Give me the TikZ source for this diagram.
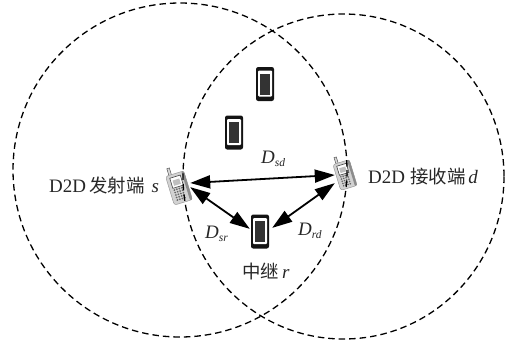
\documentclass[tikz,border=0pt]{standalone}
\usepackage{fontspec}
\usetikzlibrary{arrows.meta}
\setmainfont{Liberation Serif}
\newfontfamily\cjk{Noto Sans CJK SC}[Scale=0.97]
\newcommand{\SubD}[1]{\textit{D}\raisebox{-3pt}{\fontsize{11.5pt}{12pt}\selectfont\textit{#1}}}
\tikzset{
 ring/.style={draw=black,line width=1.3pt,dash pattern=on 6.5pt off 4pt},
 lbl/.style={inner sep=0pt,text=black!85,font=\fontsize{19pt}{21pt}\selectfont},
 link/.style={line width=1.8pt,{Triangle[length=20pt,width=13pt]}-{Triangle[length=20pt,width=13pt]}},
 anchorpt/.style={inner sep=0pt,minimum size=0pt},
 pics/smart/.style={code={
  \fill[black!92,rounded corners=2.2pt] (-9pt,-17pt) rectangle (9pt,17pt);
  \fill[white,rounded corners=1pt] (-7pt,-12.5pt) rectangle (7pt,13.5pt);
  \fill[black!80] (-5.2pt,-10.5pt) rectangle (5.2pt,10.5pt);
 }},
 pics/handset/.style={code={
  \begin{scope}[rotate=17]
  \fill[gray!30,draw=black!70,line width=.5pt] (-6pt,14pt) rectangle (-3.4pt,22pt);
  \fill[gray!35,draw=black!40,line width=.5pt,rounded corners=2.5pt] (-9.5pt,-15pt) rectangle (9.5pt,15pt);
  \fill[black!45,rounded corners=1pt] (7pt,-15pt) rectangle (9.5pt,15pt);
  \fill[white,draw=black!75,line width=.6pt] (-6pt,1.5pt) rectangle (5pt,12pt);
  \fill[gray!50] (-4pt,3.5pt) rectangle (3pt,9pt);
  \foreach \i in {-5,-2.4,.2,2.8}\foreach \j in {-11,-8.4,-5.8,-3.2,-.6}
    \fill[black!60] (\i pt,\j pt) circle (1pt);
  \end{scope}
 }},
}
\begin{document}
\begin{tikzpicture}[x=1pt,y=-1pt]
\useasboundingbox (0,0) rectangle (505,346);
\pic at (265,84) {smart};
\pic at (234,132.5) {smart};
\pic at (260,231.5) {smart};
\pic at (179,188) {handset};
\pic[scale=.9] at (345,175) {handset};
\draw[ring] (180,170) ellipse [x radius=167,y radius=167];
\draw[ring] (343.5,176.5) ellipse [x radius=160.5,y radius=162.5];
\node[anchorpt] (s1) at (190,183) {};
\node[anchorpt] (d1) at (335,175) {};
\node[anchorpt] (s2) at (190,187) {};
\node[anchorpt] (r1) at (250,229) {};
\node[anchorpt] (d2) at (335,183) {};
\node[anchorpt] (r2) at (272,228) {};
\draw[link] (s1) -- (d1);
\draw[link] (s2) -- (r1);
\draw[link] (d2) -- (r2);
\node[lbl,anchor=base west] (ls) at (49,192) {D2D\,{\cjk 发射端}\hspace{7pt}\textit{s}};
\node[lbl,anchor=base west] (ld) at (368,183) {D2D\hspace{5pt}{\cjk 接收端}\hspace{3pt}\textit{d}};
\node[lbl,anchor=base west] (lr) at (242,278) {{\cjk 中继}\,\textit{r}};
\node[lbl,anchor=base west] (dsd) at (261,163) {\SubD{sd}};
\node[lbl,anchor=base west] (dsr) at (205,238) {\SubD{sr}};
\node[lbl,anchor=base west] (drd) at (298,235) {\SubD{rd}};
\end{tikzpicture}
\end{document}
